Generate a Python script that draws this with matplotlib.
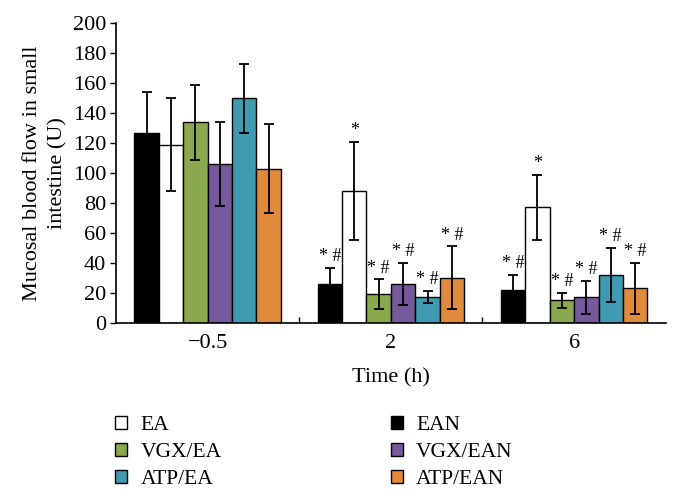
import numpy as np
from matplotlib import pyplot as plt

plt.rcParams["font.family"] = ["Liberation Serif", "DejaVu Serif"]

# Data
times = ["\u22120.5", "2", "6"]
groups = ["EAN", "EA", "VGX/EA", "VGX/EAN", "ATP/EA", "ATP/EAN"]

ean = [127, 26, 22]
ea = [119, 88, 77]
vgx_ea = [134, 19, 15]
vgx_ean = [106, 26, 17]
atp_ea = [150, 17, 32]
atp_ean = [103, 30, 23]

ean_err = [27, 10.5, 10]
ea_err = [31, 33, 22]
vgx_ea_err = [25, 10, 5]
vgx_ean_err = [28, 14, 11]
atp_ea_err = [23, 4, 18]
atp_ean_err = [30, 21, 17]

ean_mark = ["", "* #", "* #"]
ea_mark = ["", "*", "*"]
vgx_ea_mark = ["", "* #", "* #"]
vgx_ean_mark = ["", "* #", "* #"]
atp_ea_mark = ["", "* #", "* #"]
atp_ean_mark = ["", "* #", "* #"]

values = [ean, ea, vgx_ea, vgx_ean, atp_ea, atp_ean]
errors = [ean_err, ea_err, vgx_ea_err, vgx_ean_err, atp_ea_err, atp_ean_err]
marks = [ean_mark, ea_mark, vgx_ea_mark, vgx_ean_mark, atp_ea_mark, atp_ean_mark]
colors = ["#000000", "#ffffff", "#8aa84e", "#76599a", "#3f9ab2", "#e08a3c"]

fig = plt.figure(figsize=(6.8, 4.98), dpi=100)
ax = fig.add_axes((0.1706, 0.352, 0.8084, 0.601))

x = np.arange(len(times))
width = 0.8 / len(groups)

handles = {}
for i, (name, vals, errs, mk, col) in enumerate(
    zip(groups, values, errors, marks, colors)
):
    pos = x - 0.4 + width * (i + 0.5)
    bars = ax.bar(
        pos,
        vals,
        width,
        color=col,
        edgecolor="black",
        linewidth=1.0,
        yerr=errs,
        error_kw=dict(ecolor="black", elinewidth=1.3, capsize=3.5, capthick=1.3),
        zorder=2,
    )
    handles[name] = bars
    for p, v, e, m in zip(pos, vals, errs, mk):
        if m:
            ax.annotate(
                m,
                (p, v + e),
                xytext=(0, 2),
                textcoords="offset points",
                ha="center",
                va="bottom",
                fontsize=13,
            )

ax.set_xlim(-0.5, len(times) - 0.5)
ax.set_ylim(0, 200)
ax.set_yticks(np.arange(0, 201, 20))
ax.set_xticks(x)
ax.set_xticklabels(times)
ax.set_xticks(x[:-1] + 0.5, minor=True)
ax.tick_params(axis="x", which="major", length=0, labelsize=16, pad=8)
ax.tick_params(axis="x", which="minor", length=4, direction="in", width=1)
ax.tick_params(axis="y", labelsize=16, length=4, width=1, direction="out", pad=3)

for side in ("top", "right"):
    ax.spines[side].set_visible(False)
for side in ("left", "bottom"):
    ax.spines[side].set_linewidth(1.2)

ax.set_xlabel("Time (h)", fontsize=16, labelpad=11)
ax.set_ylabel("Mucosal blood flow in small\nintestine (U)", fontsize=16,
              labelpad=4, linespacing=1.45)

# legend fills column-first, so list the left column then the right one
order = ["EA", "VGX/EA", "ATP/EA", "EAN", "VGX/EAN", "ATP/EAN"]
fig.legend(
    [handles[n] for n in order],
    order,
    loc="upper left",
    bbox_to_anchor=(0.154, 0.187),
    ncol=2,
    frameon=False,
    fontsize=15.5,
    handlelength=0.55,
    handleheight=0.55,
    handletextpad=0.62,
    columnspacing=7.85,
    labelspacing=0.38,
    borderpad=0,
)

fig.savefig("out.png", dpi=100)
